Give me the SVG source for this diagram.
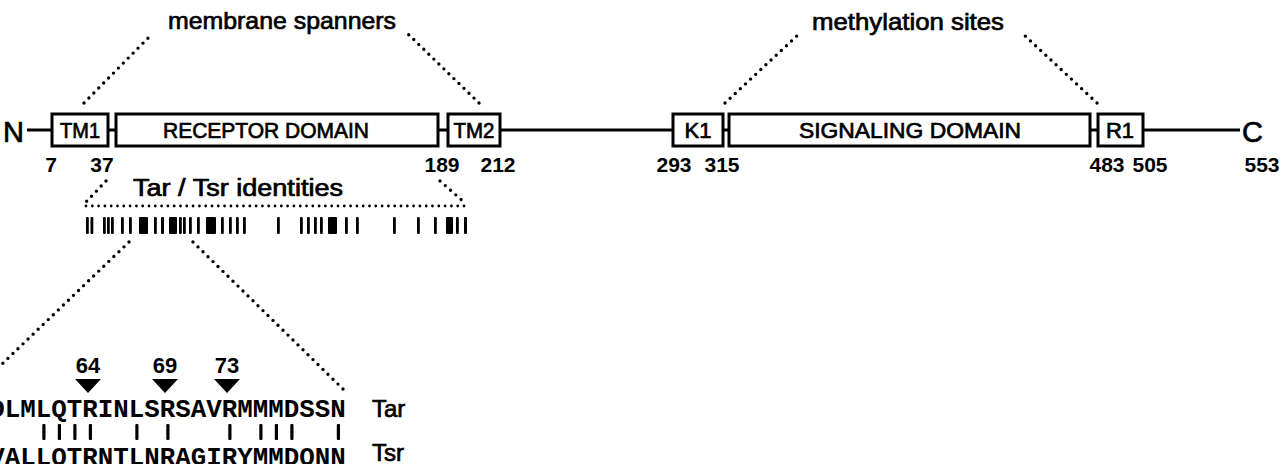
<svg xmlns="http://www.w3.org/2000/svg" width="1280" height="464" viewBox="0 0 1280 464">
<style>
.sans{font-family:"Liberation Sans",Arial,Helvetica,sans-serif;fill:#000;stroke:#000;stroke-width:0.7}
.bold{font-family:"Liberation Sans",Arial,Helvetica,sans-serif;font-weight:bold;fill:#000}
.box{fill:#fff;stroke:#000;stroke-width:3}
.ln{stroke:#000;stroke-width:3;fill:none}
.dot{stroke:#000;stroke-width:3.4;stroke-linecap:round;stroke-dasharray:0 7;fill:none}
.hdot{stroke:#000;stroke-width:2.8;stroke-linecap:round;stroke-dasharray:0 6.3;fill:none}
.mono{font-family:"Liberation Mono","Courier New",monospace;font-weight:bold;font-size:26px;fill:#000}
.lbl{font-size:24px}
.dom{font-size:22px}
.num{font-size:21px}
.tick{fill:#000}
</style>
<rect width="1280" height="464" fill="#fff"/>

<g id="connectors">
  <line class="ln" x1="27" y1="130" x2="52" y2="130"/>
  <line class="ln" x1="108" y1="130" x2="116" y2="130"/>
  <line class="ln" x1="438" y1="130" x2="448" y2="130"/>
  <line class="ln" x1="500" y1="130" x2="673" y2="130"/>
  <line class="ln" x1="723" y1="130" x2="729" y2="130"/>
  <line class="ln" x1="1090" y1="130" x2="1098" y2="130"/>
  <line class="ln" x1="1143" y1="130" x2="1240" y2="130"/>
  <line class="dot" x1="84" y1="103" x2="151" y2="35"/>
  <line class="dot" x1="479" y1="103" x2="407" y2="33"/>
  <line class="dot" x1="725" y1="103" x2="800" y2="33"/>
  <line class="dot" x1="1097" y1="103" x2="1022" y2="33"/>
  <line class="dot" x1="106" y1="181" x2="86" y2="202"/>
  <line class="dot" x1="440" y1="181" x2="464" y2="202"/>
  <line class="hdot" x1="86" y1="206" x2="468" y2="206"/>
  <line class="dot" x1="129" y1="242" x2="0" y2="366"/>
  <line class="dot" x1="193" y1="242" x2="345" y2="391"/>
</g>

<g id="labels">
  <text class="sans lbl" x="168" y="29" textLength="228" lengthAdjust="spacingAndGlyphs">membrane spanners</text>
  <text class="sans lbl" x="812" y="30" textLength="192" lengthAdjust="spacingAndGlyphs">methylation sites</text>
  <text class="sans" x="133" y="196" font-size="23" textLength="210" lengthAdjust="spacingAndGlyphs">Tar / Tsr identities</text>
</g>

<g id="node-N"><text class="sans" x="3" y="142" font-size="29">N</text></g>
<g id="node-TM1">
  <rect class="box" x="52" y="114" width="56" height="32"/>
  <text class="sans dom" x="80" y="138" text-anchor="middle" textLength="40" lengthAdjust="spacingAndGlyphs">TM1</text>
</g>
<g id="node-receptor">
  <rect class="box" x="116" y="114" width="322" height="32"/>
  <text class="sans dom" x="266" y="138" text-anchor="middle" textLength="206" lengthAdjust="spacingAndGlyphs">RECEPTOR DOMAIN</text>
</g>
<g id="node-TM2">
  <rect class="box" x="448" y="114" width="52" height="32"/>
  <text class="sans dom" x="474" y="138" text-anchor="middle" textLength="41" lengthAdjust="spacingAndGlyphs">TM2</text>
</g>
<g id="node-K1">
  <rect class="box" x="673" y="114" width="50" height="32"/>
  <text class="sans dom" x="698" y="138" text-anchor="middle">K1</text>
</g>
<g id="node-signaling">
  <rect class="box" x="729" y="114" width="361" height="32"/>
  <text class="sans dom" x="910" y="138" text-anchor="middle" textLength="222" lengthAdjust="spacingAndGlyphs">SIGNALING DOMAIN</text>
</g>
<g id="node-R1">
  <rect class="box" x="1098" y="114" width="45" height="32"/>
  <text class="sans dom" x="1120" y="138" text-anchor="middle">R1</text>
</g>
<g id="node-C"><text class="sans" x="1242" y="142" font-size="29">C</text></g>

<g id="positions">
  <text class="bold num" x="51" y="172" text-anchor="middle">7</text>
  <text class="bold num" x="102" y="172" text-anchor="middle">37</text>
  <text class="bold num" x="442" y="172" text-anchor="middle">189</text>
  <text class="bold num" x="498" y="172" text-anchor="middle">212</text>
  <text class="bold num" x="674" y="172" text-anchor="middle">293</text>
  <text class="bold num" x="722" y="172" text-anchor="middle">315</text>
  <text class="bold num" x="1107" y="172" text-anchor="middle">483</text>
  <text class="bold num" x="1150" y="172" text-anchor="middle">505</text>
  <text class="bold num" x="1262" y="172" text-anchor="middle">553</text>
</g>

<g id="identities">
  <rect class="tick" x="86" y="217" width="2.8" height="17" rx="1"/>
  <rect class="tick" x="90.5" y="217" width="2.8" height="17" rx="1"/>
  <rect class="tick" x="103" y="217" width="2.8" height="17" rx="1"/>
  <rect class="tick" x="107" y="217" width="2.8" height="17" rx="1"/>
  <rect class="tick" x="111" y="217" width="2.8" height="17" rx="1"/>
  <rect class="tick" x="121" y="217" width="2.8" height="17" rx="1"/>
  <rect class="tick" x="129" y="217" width="2.8" height="17" rx="1"/>
  <rect class="tick" x="139" y="217" width="9" height="17" rx="1"/>
  <rect class="tick" x="154" y="217" width="2.8" height="17" rx="1"/>
  <rect class="tick" x="161" y="217" width="3" height="17" rx="1"/>
  <rect class="tick" x="169" y="217" width="8" height="17" rx="1"/>
  <rect class="tick" x="179" y="217" width="2.8" height="17" rx="1"/>
  <rect class="tick" x="183" y="217" width="2.8" height="17" rx="1"/>
  <rect class="tick" x="189" y="217" width="2.8" height="17" rx="1"/>
  <rect class="tick" x="197" y="217" width="2.8" height="17" rx="1"/>
  <rect class="tick" x="206" y="217" width="10" height="17" rx="1"/>
  <rect class="tick" x="221" y="217" width="2.8" height="17" rx="1"/>
  <rect class="tick" x="229" y="217" width="2.8" height="17" rx="1"/>
  <rect class="tick" x="236" y="217" width="2.8" height="17" rx="1"/>
  <rect class="tick" x="243" y="217" width="2.8" height="17" rx="1"/>
  <rect class="tick" x="277" y="217" width="2.8" height="17" rx="1"/>
  <rect class="tick" x="300" y="217" width="2.8" height="17" rx="1"/>
  <rect class="tick" x="307" y="217" width="2.8" height="17" rx="1"/>
  <rect class="tick" x="314" y="217" width="2.8" height="17" rx="1"/>
  <rect class="tick" x="320" y="217" width="2.8" height="17" rx="1"/>
  <rect class="tick" x="328" y="217" width="9" height="17" rx="1"/>
  <rect class="tick" x="345" y="217" width="2.8" height="17" rx="1"/>
  <rect class="tick" x="356" y="217" width="2.8" height="17" rx="1"/>
  <rect class="tick" x="393" y="217" width="2.8" height="17" rx="1"/>
  <rect class="tick" x="417" y="217" width="2.8" height="17" rx="1"/>
  <rect class="tick" x="434" y="217" width="2.8" height="17" rx="1"/>
  <rect class="tick" x="446" y="217" width="7" height="17" rx="1"/>
  <rect class="tick" x="456" y="217" width="2.8" height="17" rx="1"/>
  <rect class="tick" x="464" y="217" width="3" height="17" rx="1"/>
</g>

<g id="alignment">
  <text class="bold" x="88" y="373" font-size="22" text-anchor="middle">64</text>
  <text class="bold" x="165" y="373" font-size="22" text-anchor="middle">69</text>
  <text class="bold" x="227" y="373" font-size="22" text-anchor="middle">73</text>
  <polygon points="75,379 101,379 88,393"/>
  <polygon points="152,379 178,379 165,393"/>
  <polygon points="214,379 240,379 227,393"/>
  <text class="mono" x="-10.75" y="417" textLength="356.5" lengthAdjust="spacingAndGlyphs">DLMLQTRINLSRSAVRMMMDSSN</text>
  <text class="mono" x="-10.75" y="465" textLength="356.5" lengthAdjust="spacingAndGlyphs">VALLQTRNTLNRAGIRYMMDQNN</text>
  <g fill="#000">
    <rect x="42.3" y="424" width="3.2" height="16" rx="1"/>
    <rect x="57.8" y="424" width="3.2" height="16" rx="1"/>
    <rect x="73.3" y="424" width="3.2" height="16" rx="1"/>
    <rect x="88.8" y="424" width="3.2" height="16" rx="1"/>
    <rect x="135.3" y="424" width="3.2" height="16" rx="1"/>
    <rect x="166.3" y="424" width="3.2" height="16" rx="1"/>
    <rect x="228.3" y="424" width="3.2" height="16" rx="1"/>
    <rect x="259.3" y="424" width="3.2" height="16" rx="1"/>
    <rect x="274.8" y="424" width="3.2" height="16" rx="1"/>
    <rect x="290.3" y="424" width="3.2" height="16" rx="1"/>
    <rect x="336.8" y="424" width="3.2" height="16" rx="1"/>
  </g>
  <text class="sans" x="372" y="417" font-size="24">Tar</text>
  <text class="sans" x="372" y="461" font-size="24">Tsr</text>
</g>
</svg>
